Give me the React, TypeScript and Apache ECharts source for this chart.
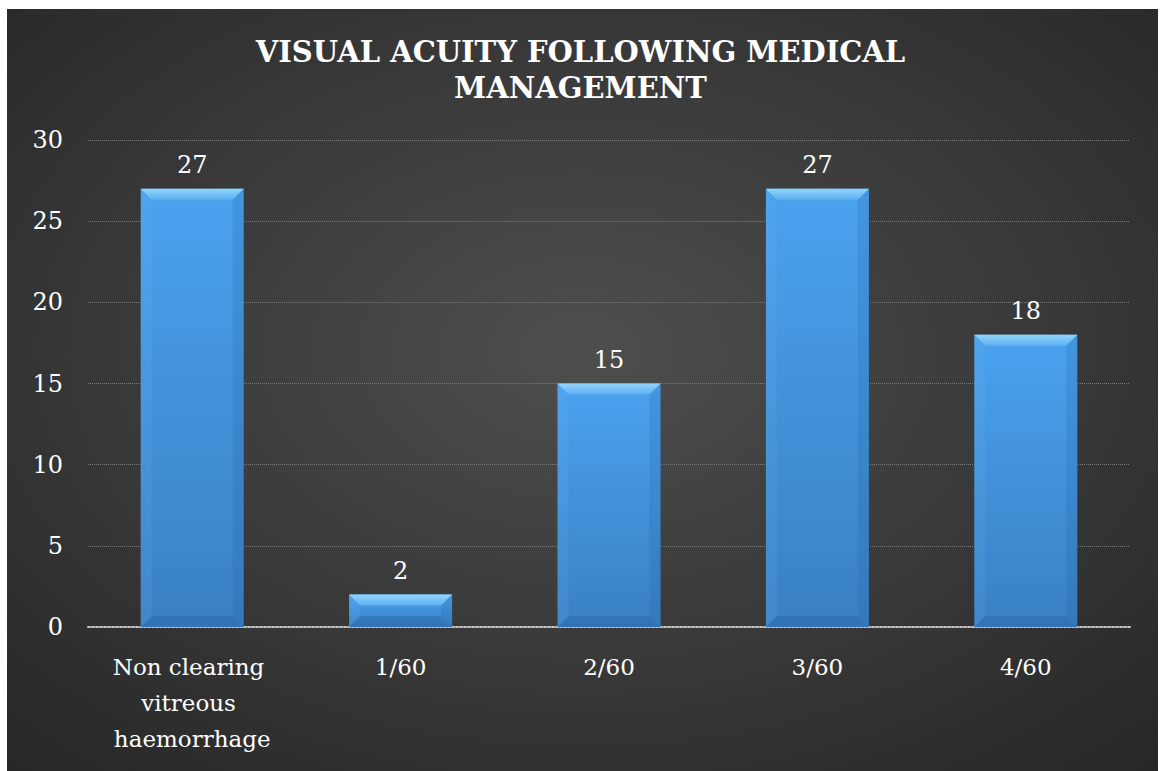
import React, { useEffect, useRef } from "react";
import * as echarts from "echarts";

const categories = ["Non clearing vitreous haemorrhage", "1/60", "2/60", "3/60", "4/60"];
const values = [27, 2, 15, 27, 18];
const titleLines = ["VISUAL ACUITY FOLLOWING MEDICAL", "MANAGEMENT"];

const FONT = "DejaVu Serif";

export default function App() {
  const ref = useRef<HTMLDivElement>(null);
  useEffect(() => {
    const chart = echarts.init(ref.current!, null, { renderer: "svg" });
    const bevel = 11;
    chart.setOption({
      animation: false,
      backgroundColor: "#ffffff",
      textStyle: { fontFamily: FONT },
      graphic: [
        {
          type: "rect",
          z: -10,
          shape: { x: 7, y: 9, width: 1151, height: 762 },
          style: {
            fill: new echarts.graphic.RadialGradient(0.5, 0.45, 0.75, [
              { offset: 0, color: "#4e4e4e" },
              { offset: 1, color: "#262626" },
            ]),
          },
        },
      ],
      title: {
        text: titleLines.join("\n"),
        left: "center",
        top: 29,
        textStyle: {
          fontFamily: FONT,
          fontWeight: "bold",
          fontSize: 29,
          lineHeight: 36,
          color: "#ffffff",
        },
      },
      grid: { left: 88, right: 31, top: 140, bottom: 144, containLabel: false },
      xAxis: {
        type: "category",
        data: categories,
        axisTick: { show: false },
        axisLine: { lineStyle: { color: "#c4c4c4", width: 2, type: "dotted" } },
        axisLabel: {
          color: "#ffffff",
          fontFamily: FONT,
          fontSize: 23,
          lineHeight: 36,
          margin: 22,
          width: 200,
          overflow: "break",
          interval: 0,
        },
      },
      yAxis: {
        type: "value",
        min: 0,
        max: 30,
        interval: 5,
        axisLine: { show: false },
        axisTick: { show: false },
        axisLabel: { color: "#ffffff", fontFamily: FONT, fontSize: 24, margin: 25 },
        splitLine: { lineStyle: { color: "#7a7a7a", type: "dotted", width: 1 } },
      },
      series: [
        {
          type: "bar",
          data: values,
          barWidth: 103,
          itemStyle: {
            color: new echarts.graphic.LinearGradient(0, 0, 0, 1, [
              { offset: 0, color: "#4aa2ee" },
              { offset: 1, color: "#3a80c4" },
            ]),
          },
          label: {
            show: true,
            position: "top",
            distance: 12,
            color: "#ffffff",
            fontFamily: FONT,
            fontSize: 24,
          },
          z: 2,
        },
        {
          type: "custom",
          silent: true,
          z: 3,
          data: values.map((v, i) => [i, v]),
          renderItem: (params: any, api: any) => {
            const top = api.coord([api.value(0), api.value(1)]);
            const bot = api.coord([api.value(0), 0]);
            const w = 103;
            const x0 = top[0] - w / 2;
            const x1 = top[0] + w / 2;
            const y0 = top[1];
            const y1 = bot[1];
            const b = Math.min(bevel, (y1 - y0) / 2);
            return {
              type: "group",
              children: [
                {
                  type: "polygon",
                  shape: { points: [[x0, y0], [x1, y0], [x1 - b, y0 + b], [x0 + b, y0 + b]] },
                  style: {
                    fill: new echarts.graphic.LinearGradient(0, 0, 0, 1, [
                      { offset: 0, color: "#93d6fb" },
                      { offset: 1, color: "#5cb0f2" },
                    ]),
                  },
                },
                {
                  type: "polygon",
                  shape: { points: [[x0, y0], [x0 + b, y0 + b], [x0 + b, y1 - b], [x0, y1]] },
                  style: { fill: "rgba(120,190,245,0.12)" },
                },
                {
                  type: "polygon",
                  shape: { points: [[x1, y0], [x1 - b, y0 + b], [x1 - b, y1 - b], [x1, y1]] },
                  style: { fill: "rgba(30,80,140,0.15)" },
                },
                {
                  type: "polygon",
                  shape: { points: [[x0, y1], [x0 + b, y1 - b], [x1 - b, y1 - b], [x1, y1]] },
                  style: { fill: "rgba(30,90,150,0.3)" },
                },
              ],
            };
          },
        },
      ],
    });
    return () => chart.dispose();
  }, []);
  return (
    <div
      ref={ref}
      style={{ position: "fixed", left: 0, top: 0, width: 1161, height: 771 }}
    />
  );
}
